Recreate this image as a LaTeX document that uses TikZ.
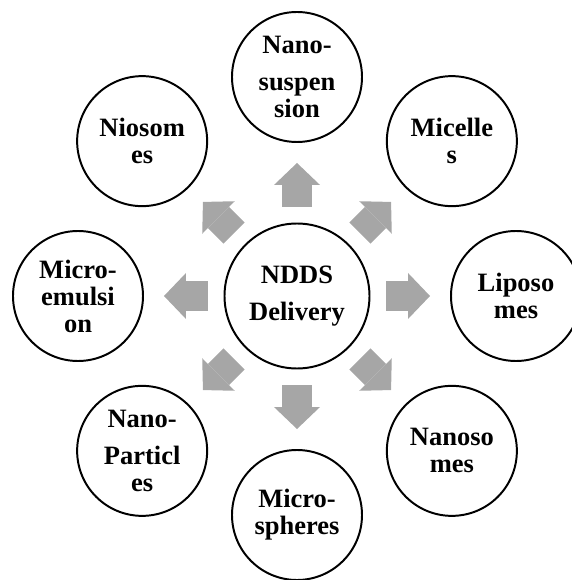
\documentclass[tikz,border=0pt]{standalone}
\usepackage{fontspec}
\setmainfont{Liberation Serif}
\usetikzlibrary{arrows.meta}
\definecolor{ink}{HTML}{000000}
\definecolor{arrowgray}{HTML}{A6A6A6}

\begin{document}
\begin{tikzpicture}[
  bubble/.style={circle,draw=ink,line width=1.4pt,minimum size=3.25cm,inner sep=0pt,
    align=center,font=\bfseries\fontsize{18.85}{19.2}\selectfont},
  blockarrow/.style={arrowgray,line width=0.75cm,shorten <=0.39cm,shorten >=0.5cm,
    -{Triangle[width=1.15cm,length=0.55cm,line width=0pt]}}]
 \useasboundingbox (-7.425,-7.1) rectangle (6.875,7.4);
 \node[bubble,minimum size=3.625cm] (ndds) at (0,0) {NDDS\\[7pt]Delivery};
 \foreach \a/\n/\t in {90/nsusp/{Nano-\\[7pt]suspen\\sion},45/micel/{Micelle\\s},
   0/lipo/{Liposo\\mes},-45/nanoso/{Nanoso\\mes},-90/msph/{Micro-\\spheres},
   -135/npart/{Nano-\\[7pt]Particl\\es},180/memul/{Micro-\\emulsi\\on},135/nioso/{Niosom\\es}}{
   \node[bubble] (\n) at (\a:5.475) {\t};
   \draw[blockarrow] (ndds) -- (\n);}
\end{tikzpicture}
\end{document}
